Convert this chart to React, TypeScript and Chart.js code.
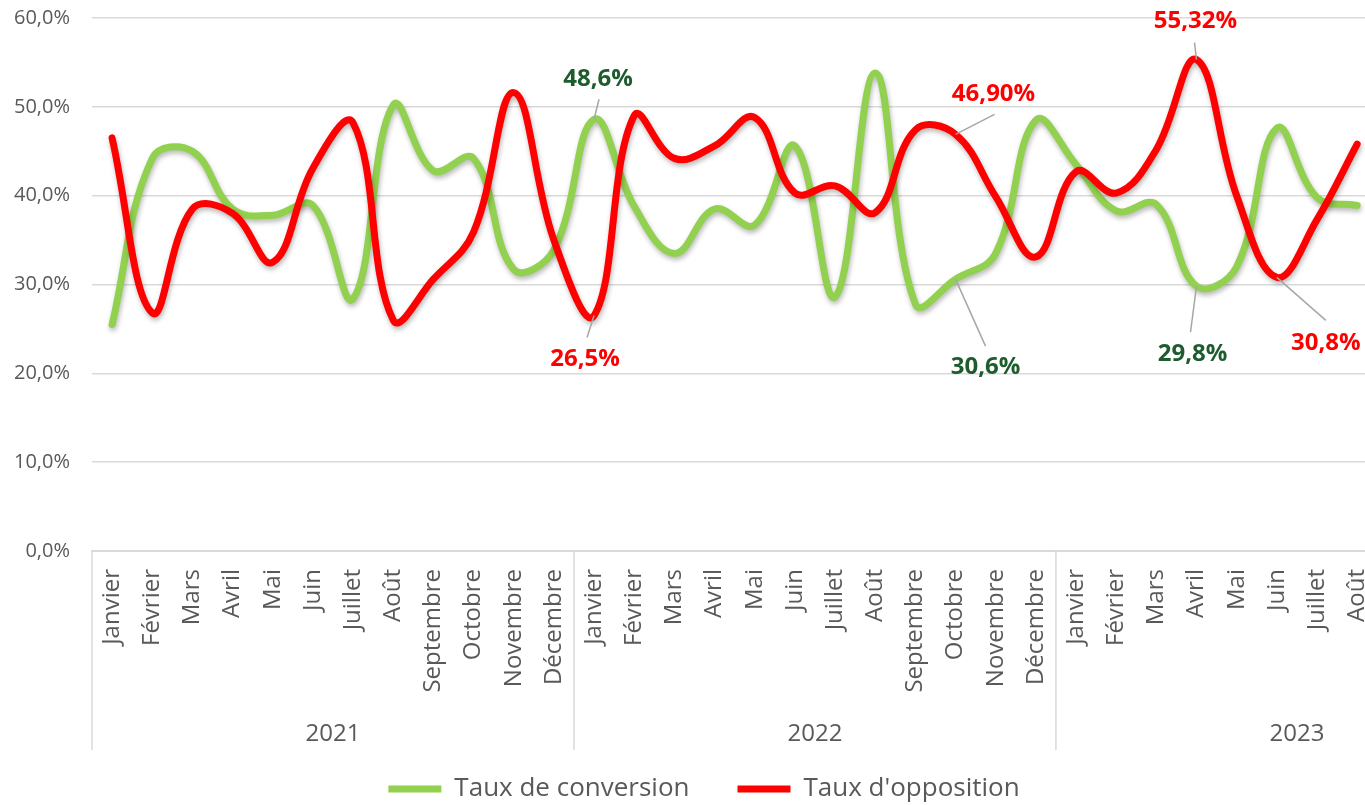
import React, { useEffect, useRef } from 'react';
import { Chart, registerables } from 'chart.js';

Chart.register(...registerables);

// ---------- data ----------
const MONTHS = ['Janvier', 'Février', 'Mars', 'Avril', 'Mai', 'Juin', 'Juillet', 'Août', 'Septembre', 'Octobre', 'Novembre', 'Décembre'];
const MONTH_LABELS = [...MONTHS, ...MONTHS, ...MONTHS.slice(0, 8)];
const YEARS = ['2021', '2022', '2023'];
const YEAR_START = [0, 12, 24];

const CONVERSION = [
  25.5, 44.2, 45.0, 38.5, 37.8, 38.9, 28.4, 50.2, 42.8, 44.2, 31.7, 33.9,
  48.6, 38.8, 33.5, 38.5, 36.7, 45.6, 28.6, 53.8, 27.8, 30.6, 33.5, 48.5,
  43.5, 38.3, 39.0, 29.8, 32.0, 47.6, 39.8, 38.9,
];
const OPPOSITION = [
  46.5, 26.8, 38.5, 38.0, 32.5, 43.1, 48.2, 26.0, 30.6, 35.9, 51.6, 35.0,
  26.5, 49.0, 44.2, 45.6, 48.8, 40.3, 41.1, 38.1, 47.4, 46.9, 39.9, 33.1,
  42.7, 40.3, 45.2, 55.32, 40.0, 30.8, 37.3, 45.8,
];
const SERIES_NAMES = ['Taux de conversion', "Taux d'opposition"];
const Y_MIN = 0;
const Y_MAX = 60;
const Y_STEP = 10;

// callouts: series index, point index, text, text offset, leader end offset
const CALLOUTS = [
  { series: 0, index: 12, text: '48,6%', tx: 4, ty: -40, lx: 5, ly: -20 },
  { series: 1, index: 12, text: '26,5%', tx: -9, ty: 44, lx: -7, ly: 22 },
  { series: 1, index: 21, text: '46,90%', tx: 38, ty: -40, lx: 39, ly: -20 },
  { series: 0, index: 21, text: '30,6%', tx: 30, ty: 88, lx: 30, ly: 67 },
  { series: 1, index: 27, text: '55,32%', tx: -1, ty: -38, lx: -2, ly: -17 },
  { series: 0, index: 27, text: '29,8%', tx: -4, ty: 68, lx: -6, ly: 46 },
  { series: 1, index: 29, text: '30,8%', tx: 49, ty: 66, lx: 49, ly: 43 },
];

const GREEN = '#92D050';
const RED = '#FF0000';
const DARK_GREEN = '#1E5C2E';
const GRID = '#D9D9D9';
const TEXT = '#595959';
const FONT = "'Open Sans', 'DejaVu Sans', sans-serif";
const Y_FONT_SIZE = 20;

const fmtPct = (v: number) => Number(v).toFixed(1).replace('.', ',') + '%';

const shadowPlugin = {
  id: 'lineShadow',
  beforeDatasetDraw(chart: any) {
    const c = chart.ctx;
    c.save();
    c.shadowColor = 'rgba(0,0,0,0.28)';
    c.shadowBlur = 5;
    c.shadowOffsetX = 1;
    c.shadowOffsetY = 3;
  },
  afterDatasetDraw(chart: any) {
    chart.ctx.restore();
  },
};

const yearGroupPlugin = {
  id: 'yearGroups',
  afterDraw(chart: any) {
    const x = chart.scales.x;
    const ctx = chart.ctx;
    const half = (x.getPixelForValue(1) - x.getPixelForValue(0)) / 2;
    const top = chart.chartArea.bottom;
    const bottom = top + 199;
    ctx.save();
    ctx.strokeStyle = GRID;
    ctx.lineWidth = 1.5;
    ctx.fillStyle = TEXT;
    ctx.font = `24px ${FONT}`;
    ctx.textAlign = 'center';
    ctx.textBaseline = 'middle';
    YEAR_START.forEach((s, i) => {
      const bx = x.getPixelForValue(s) - half;
      ctx.beginPath();
      ctx.moveTo(bx, top);
      ctx.lineTo(bx, bottom);
      ctx.stroke();
      const cx = x.getPixelForValue(s + 5.5);
      ctx.fillText(YEARS[i], cx, top + 183);
    });
    ctx.restore();
  },
};

const calloutPlugin = {
  id: 'callouts',
  afterDatasetsDraw(chart: any) {
    const ctx = chart.ctx;
    ctx.save();
    CALLOUTS.forEach((c) => {
      const pt = chart.getDatasetMeta(c.series).data[c.index];
      if (!pt) return;
      ctx.strokeStyle = '#A6A6A6';
      ctx.lineWidth = 1.5;
      ctx.beginPath();
      ctx.moveTo(pt.x, pt.y);
      ctx.lineTo(pt.x + c.lx, pt.y + c.ly);
      ctx.stroke();
      ctx.fillStyle = c.series === 0 ? DARK_GREEN : RED;
      ctx.font = `bold 24px ${FONT}`;
      ctx.textAlign = 'center';
      ctx.textBaseline = 'middle';
      ctx.fillText(c.text, pt.x + c.tx, pt.y + c.ty);
    });
    ctx.restore();
  },
};

export default function App() {
  const ref = useRef<HTMLCanvasElement | null>(null);

  useEffect(() => {
    if (!ref.current) return;
    // width of the widest y label, to right-align mirrored labels at a fixed x
    const mctx = document.createElement('canvas').getContext('2d')!;
    mctx.font = `normal ${Y_FONT_SIZE}px ${FONT}`;
    let widest = 0;
    for (let v = Y_MIN; v <= Y_MAX; v += Y_STEP) widest = Math.max(widest, mctx.measureText(fmtPct(v)).width);

    const chart = new Chart(ref.current, {
      type: 'line',
      data: {
        labels: MONTH_LABELS,
        datasets: [
          {
            label: SERIES_NAMES[0],
            data: CONVERSION,
            borderColor: GREEN,
            backgroundColor: GREEN,
            borderWidth: 7,
            pointRadius: 0,
            pointHoverRadius: 0,
            tension: 0.4,
            borderCapStyle: 'round',
            borderJoinStyle: 'round',
            fill: false,
            order: 2,
          },
          {
            label: SERIES_NAMES[1],
            data: OPPOSITION,
            borderColor: RED,
            backgroundColor: RED,
            borderWidth: 7,
            pointRadius: 0,
            pointHoverRadius: 0,
            tension: 0.4,
            borderCapStyle: 'round',
            borderJoinStyle: 'round',
            fill: false,
            order: 1,
          },
        ],
      },
      options: {
        responsive: false,
        animation: false,
        events: [],
        layout: { padding: { left: 25, right: 3, top: 18, bottom: 0 } },
        scales: {
          x: {
            type: 'category',
            offset: true,
            grid: {
              display: true,
              drawOnChartArea: false,
              drawTicks: true,
              tickLength: 18,
              tickColor: 'rgba(0,0,0,0)',
              color: 'rgba(0,0,0,0)',
            },
            border: { display: true, color: GRID, width: 2 },
            ticks: {
              autoSkip: false,
              maxRotation: 90,
              minRotation: 90,
              padding: 0,
              color: TEXT,
              font: { size: 24, family: FONT },
            },
            afterFit: (scale: any) => {
              const lh = scale.chart.legend ? scale.chart.legend.height : 0;
              scale.height = 812 - 551 - lh;
            },
          },
          y: {
            min: Y_MIN,
            max: Y_MAX,
            ticks: {
              stepSize: Y_STEP,
              mirror: true,
              crossAlign: 'far',
              padding: -22 - widest,
              color: TEXT,
              font: { size: Y_FONT_SIZE, family: FONT },
              callback: (v: any) => fmtPct(v),
            },
            grid: { color: GRID, lineWidth: 1.5, drawTicks: false },
            border: { display: false },
            afterFit: (scale: any) => {
              scale.width = 67;
            },
          },
        },
        plugins: {
          legend: {
            position: 'bottom',
            labels: {
              usePointStyle: true,
              pointStyle: 'line',
              pointStyleWidth: 53,
              color: TEXT,
              padding: 48,
              font: { size: 26, family: FONT, lineHeight: 1 },
              sort: (a: any, b: any) => a.datasetIndex - b.datasetIndex,
            },
          },
          tooltip: { enabled: false },
        },
      },
      plugins: [shadowPlugin, calloutPlugin, yearGroupPlugin],
    } as any);
    return () => chart.destroy();
  }, []);

  return (
    <div style={{ position: 'fixed', left: 0, top: 0, width: 1365, height: 805, overflow: 'hidden', background: '#fff' }}>
      <canvas ref={ref} width={1386} height={812} style={{ display: 'block' }} />
    </div>
  );
}
